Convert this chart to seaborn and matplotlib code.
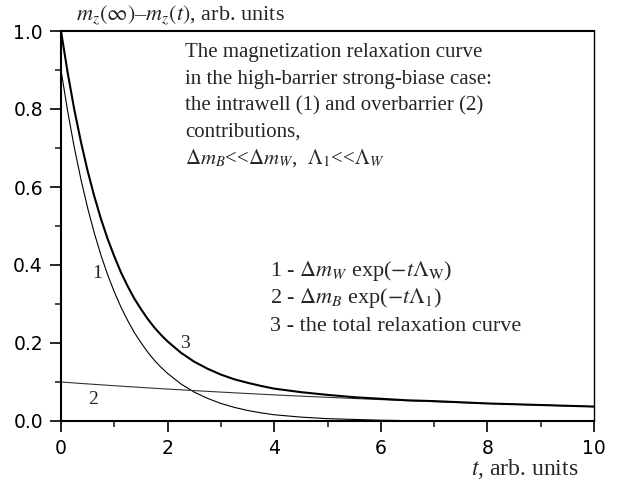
import matplotlib
matplotlib.use("Agg")
import matplotlib.pyplot as plt
import numpy as np
import pandas as pd
import seaborn as sns
from matplotlib.ticker import MultipleLocator

# values
t_vals = [0, 0.125, 0.25, 0.375, 0.5, 0.625, 0.75, 0.875, 1.0, 1.125, 1.25,
          1.375, 1.5, 1.625, 1.75, 1.875, 2.0, 2.25, 2.5, 2.75, 3.0, 3.25,
          3.5, 3.75, 4.0, 4.5, 5.0, 5.5, 6.0, 6.5, 7.0, 7.5, 8.0, 8.5, 9.0,
          9.5, 10.0]
intrawell = [0.900, 0.794, 0.701, 0.619, 0.546, 0.482, 0.425, 0.375, 0.331,
             0.292, 0.258, 0.227, 0.201, 0.177, 0.156, 0.138, 0.122, 0.095,
             0.074, 0.058, 0.045, 0.035, 0.027, 0.021, 0.016, 0.010, 0.006,
             0.004, 0.002, 0.001, 0.001, 0.0005, 0.0003, 0.0002, 0.0001,
             0.0001, 0.0]
overbarrier = [0.1000, 0.0988, 0.0975, 0.0963, 0.0951, 0.0939, 0.0928, 0.0916,
               0.0905, 0.0894, 0.0882, 0.0872, 0.0861, 0.0850, 0.0839, 0.0829,
               0.0819, 0.0799, 0.0779, 0.0760, 0.0741, 0.0723, 0.0705, 0.0687,
               0.0670, 0.0638, 0.0607, 0.0577, 0.0549, 0.0522, 0.0497, 0.0472,
               0.0449, 0.0427, 0.0407, 0.0387, 0.0368]
total = [1.000, 0.893, 0.798, 0.715, 0.641, 0.576, 0.518, 0.467, 0.422,
         0.381, 0.346, 0.314, 0.287, 0.262, 0.240, 0.221, 0.204, 0.175,
         0.152, 0.134, 0.119, 0.107, 0.098, 0.090, 0.083, 0.074, 0.067,
         0.061, 0.057, 0.053, 0.051, 0.048, 0.045, 0.043, 0.041, 0.039,
         0.037]

x_ticks = [0, 2, 4, 6, 8, 10]
y_ticks = [0.0, 0.2, 0.4, 0.6, 0.8, 1.0]

df = pd.DataFrame({"t": t_vals, "c1": intrawell, "c2": overbarrier, "c3": total})

sns.set_style("ticks")
plt.rcParams["font.family"] = ["DejaVu Sans"]
plt.rcParams["mathtext.fontset"] = "stix"
serif = ["Liberation Serif", "DejaVu Serif"]

fig = plt.figure(figsize=(6.28, 4.84), dpi=100)
ax = fig.add_axes([61 / 628, 1 - 421 / 484, 533 / 628, 390 / 484])

sns.lineplot(data=df, x="t", y="c1", ax=ax, color="black", linewidth=0.8)
sns.lineplot(data=df, x="t", y="c2", ax=ax, color="#333333", linewidth=0.8)
sns.lineplot(data=df, x="t", y="c3", ax=ax, color="black", linewidth=1.5)

ax.set_xlim(0, 10)
ax.set_ylim(0, 1)
ax.set_xticks(x_ticks)
ax.set_xticklabels([str(v) for v in x_ticks])
ax.set_yticks(y_ticks)
ax.set_yticklabels([f"{v:.1f}" for v in y_ticks])
ax.xaxis.set_minor_locator(MultipleLocator(1))
ax.yaxis.set_minor_locator(MultipleLocator(0.1))
ax.tick_params(axis="both", which="major", length=8, width=1.2,
               labelsize=13.5, pad=5, colors="black")
ax.tick_params(axis="both", which="minor", length=4, width=1.2)
ax.set_xlabel("")
ax.set_ylabel("")
for side in ["left", "bottom", "top"]:
    ax.spines[side].set_linewidth(1.5)
ax.spines["right"].set_linewidth(1.0)
for s in ax.spines.values():
    s.set_color("black")

# axis titles
fig.text(76 / 628, 1 - 20 / 484, r"$m_z(\infty)$–$m_z(t)$, arb. units",
         family=serif, fontsize=16, ha="left", va="baseline")
fig.text(578 / 628, 1 - 475 / 484, r"$t$, arb. units",
         family=serif, fontsize=17, ha="right", va="baseline")

# description block
desc = [
    "The magnetization relaxation curve",
    "in the high-barrier strong-biase case:",
    "the intrawell (1) and overbarrier (2)",
    "contributions,",
    r"$\Delta m_B$<<$\Delta m_W$,  $\Lambda_1$<<$\Lambda_W$",
]
for i, line in enumerate(desc):
    fig.text(185 / 628, 1 - (57 + 26.6 * i) / 484, line, family=serif,
             fontsize=15, ha="left", va="baseline")

legend_lines = [
    r"1 - $\Delta m_W$ exp($-t\Lambda_{\rm W}$)",
    r"2 - $\Delta m_B$ exp($-t\Lambda_1$)",
    "3 - the total relaxation curve",
]
for i, line in enumerate(legend_lines):
    fig.text(270 / 628, 1 - (276 + 27.5 * i) / 484, line, family=serif,
             fontsize=16, ha="left", va="baseline")

# curve numbers
ax.text(0.675, 0.377, "1", family=serif, fontsize=14, ha="center", va="center")
ax.text(0.6, 0.054, "2", family=serif, fontsize=14, ha="center", va="center")
ax.text(2.33, 0.2, "3", family=serif, fontsize=14, ha="center", va="center")

fig.savefig("out.png", dpi=100)
